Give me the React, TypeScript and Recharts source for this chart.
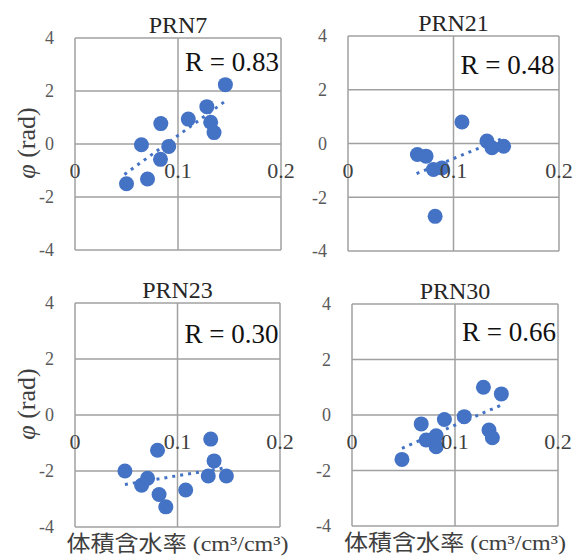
import React from 'react';
import { ScatterChart, Scatter, XAxis, YAxis, CartesianGrid, ReferenceDot } from 'recharts';

const SERIF = "'Liberation Serif', 'Times New Roman', serif";
const CJK = "'Liberation Serif', 'Noto Sans CJK JP', serif";

const xTicks = [0, 0.1, 0.2];
const xTickLabels = ['0', '0.1', '0.2'];
const yTicks = [-4, -2, 0, 2, 4];
const panelTitles = ['PRN7', 'PRN21', 'PRN23', 'PRN30'];
const rLabels = ['R = 0.83', 'R = 0.48', 'R = 0.30', 'R = 0.66'];
const yAxisTitle = 'φ';
const yAxisUnit = ' (rad)';
const xAxisTitle = '体積含水率 (cm³/cm³)';

const prn7X = [0.05, 0.0645, 0.0704, 0.083, 0.0833, 0.091, 0.11, 0.128, 0.1317, 0.135, 0.146];
const prn7Y = [-1.5, -0.03, -1.32, -0.58, 0.77, -0.09, 0.94, 1.41, 0.82, 0.43, 2.24];
const prn21X = [0.0658, 0.074, 0.081, 0.0826, 0.089, 0.108, 0.1317, 0.1365, 0.1475];
const prn21Y = [-0.41, -0.47, -0.97, -2.71, -0.91, 0.8, 0.09, -0.16, -0.1];
const prn23X = [0.0487, 0.065, 0.0708, 0.0805, 0.082, 0.0886, 0.108, 0.13, 0.1324, 0.1357, 0.1477];
const prn23Y = [-2.0, -2.51, -2.26, -1.26, -2.84, -3.28, -2.68, -2.18, -0.86, -1.64, -2.18];
const prn30X = [0.0485, 0.0672, 0.072, 0.0817, 0.0817, 0.0897, 0.109, 0.1276, 0.133, 0.1363, 0.145];
const prn30Y = [-1.6, -0.32, -0.9, -0.75, -1.14, -0.16, -0.06, 1.0, -0.54, -0.82, 0.76];

const trend7X = [0.048, 0.146];
const trend7Y = [-1.15, 1.62];
const trend21X = [0.065, 0.1475];
const trend21Y = [-1.12, 0.2];
const trend23X = [0.0487, 0.1477];
const trend23Y = [-2.48, -1.88];
const trend30X = [0.0485, 0.145];
const trend30Y = [-1.2, 0.36];

const zip = (xs: number[], ys: number[]) => xs.map((x, i) => ({ x, y: ys[i] }));

const DOT_COLOR = '#4472C4';

const DotShape = (props: any) => {
  if (props.cx == null || props.cy == null) return <g />;
  return <circle cx={props.cx} cy={props.cy} r={7.5} fill={DOT_COLOR} />;
};
const NoShape = () => <g />;

const vbOf = (props: any) => {
  const vb = props.viewBox || {};
  return { x: (vb.x ?? 0) + (vb.width ?? 0) / 2, y: (vb.y ?? 0) + (vb.height ?? 0) / 2, raw: vb };
};

type PanelProps = {
  idx: number;
  points: { x: number; y: number }[];
  trend: { x: number; y: number }[];
  left: number;
  top: number;
  width: number;
  height: number;
  margin: { top: number; right: number; bottom: number; left: number };
  yAxisWidth: number;
  showYLabel: boolean;
  showXLabel: boolean;
  rBaseline: number;
  yLabelShift: number;
};

const Panel = (p: PanelProps) => {
  const titleLabel = (props: any) => {
    const { x, y } = vbOf(props);
    return (
      <text x={x} y={y - 5} textAnchor="middle" fontFamily={SERIF} fontSize={24} fill="#262626">
        {panelTitles[p.idx]}
      </text>
    );
  };
  const rLabel = (props: any) => {
    const { x, y } = vbOf(props);
    return (
      <text x={x + 7} y={y + p.rBaseline} textAnchor="start" fontFamily={SERIF} fontSize={27} fill="#111">
        {rLabels[p.idx]}
      </text>
    );
  };
  const xTickLabel = (i: number) => (props: any) => {
    const { x, y } = vbOf(props);
    return (
      <text x={x} y={y + 34} textAnchor="middle" fontFamily={SERIF} fontSize={22} fill="#404040">
        {xTickLabels[i]}
      </text>
    );
  };
  const xTitleLabel = (props: any) => {
    const { x, y } = vbOf(props);
    return (
      <text
        x={x}
        y={y + 24}
        textAnchor="middle"
        fontFamily={CJK}
        fontSize={22}
        fill="#404040"
        textLength={222}
        lengthAdjust="spacingAndGlyphs"
      >
        {xAxisTitle}
      </text>
    );
  };
  const yTitleLabel = (props: any) => {
    const vb = props.viewBox || {};
    const cx = (vb.x ?? 0) + 26;
    const cy = (vb.y ?? 0) + (vb.height ?? 0) / 2 + p.yLabelShift;
    return (
      <text
        x={cx}
        y={cy}
        textAnchor="middle"
        dominantBaseline="central"
        transform={`rotate(-90, ${cx}, ${cy})`}
        fontFamily={SERIF}
        fontSize={26}
        fill="#404040"
      >
        <tspan fontStyle="italic">{yAxisTitle}</tspan>
        {yAxisUnit}
      </text>
    );
  };

  return (
    <div style={{ position: 'absolute', left: p.left, top: p.top, width: p.width, height: p.height }}>
      <ScatterChart width={p.width} height={p.height} margin={p.margin}>
        <CartesianGrid stroke="#a0a0a0" strokeWidth={1.5} />
        <XAxis type="number" dataKey="x" domain={[0, 0.2]} ticks={xTicks} hide allowDataOverflow />
        <YAxis
          type="number"
          dataKey="y"
          domain={[-4, 4]}
          ticks={yTicks}
          interval={0}
          allowDataOverflow
          width={p.yAxisWidth}
          axisLine={false}
          tickLine={false}
          tickSize={0}
          tickMargin={21}
          tick={{ fill: '#595959', fontSize: 18, fontFamily: SERIF }}
          label={p.showYLabel ? yTitleLabel : undefined}
        />
        <Scatter
          data={p.trend}
          line={{ stroke: DOT_COLOR, strokeWidth: 3, strokeDasharray: '3 5' }}
          lineType="joint"
          shape={NoShape}
          isAnimationActive={false}
        />
        <Scatter data={p.points} fill={DOT_COLOR} shape={DotShape} isAnimationActive={false} />
        {xTicks.map((t, i) => (
          <ReferenceDot key={`xt${i}`} x={t} y={0} r={0} fill="none" stroke="none" label={xTickLabel(i)} />
        ))}
        <ReferenceDot x={0.1} y={4} r={0} fill="none" stroke="none" label={titleLabel} />
        <ReferenceDot x={0.1} y={4} r={0} fill="none" stroke="none" label={rLabel} />
        {p.showXLabel && (
          <ReferenceDot x={0.1} y={-4} r={0} fill="none" stroke="none" label={xTitleLabel} />
        )}
      </ScatterChart>
    </div>
  );
}

export default function App() {
  return (
    <div style={{ position: 'absolute', left: 0, top: 0, width: 579, height: 559, background: '#fff', fontFamily: SERIF }}>
      <Panel
        idx={0}
        points={zip(prn7X, prn7Y)}
        trend={zip(trend7X, trend7Y)}
        left={0}
        top={0}
        width={300}
        height={270}
        margin={{ top: 38, right: 19, bottom: 20, left: 0 }}
        yAxisWidth={75}
        showYLabel={true}
        showXLabel={false}
        rBaseline={33}
        yLabelShift={-1}
      />
      <Panel
        idx={1}
        points={zip(prn21X, prn21Y)}
        trend={zip(trend21X, trend21Y)}
        left={290}
        top={0}
        width={289}
        height={270}
        margin={{ top: 36, right: 20, bottom: 19, left: 0 }}
        yAxisWidth={58}
        showYLabel={false}
        showXLabel={false}
        rBaseline={38}
        yLabelShift={0}
      />
      <Panel
        idx={2}
        points={zip(prn23X, prn23Y)}
        trend={zip(trend23X, trend23Y)}
        left={0}
        top={270}
        width={300}
        height={289}
        margin={{ top: 33, right: 20, bottom: 32, left: 0 }}
        yAxisWidth={75}
        showYLabel={true}
        showXLabel={true}
        rBaseline={40}
        yLabelShift={-11}
      />
      <Panel
        idx={3}
        points={zip(prn30X, prn30Y)}
        trend={zip(trend30X, trend30Y)}
        left={290}
        top={270}
        width={289}
        height={289}
        margin={{ top: 34, right: 21, bottom: 33, left: 0 }}
        yAxisWidth={62}
        showYLabel={false}
        showXLabel={true}
        rBaseline={37}
        yLabelShift={0}
      />
    </div>
  );
}
